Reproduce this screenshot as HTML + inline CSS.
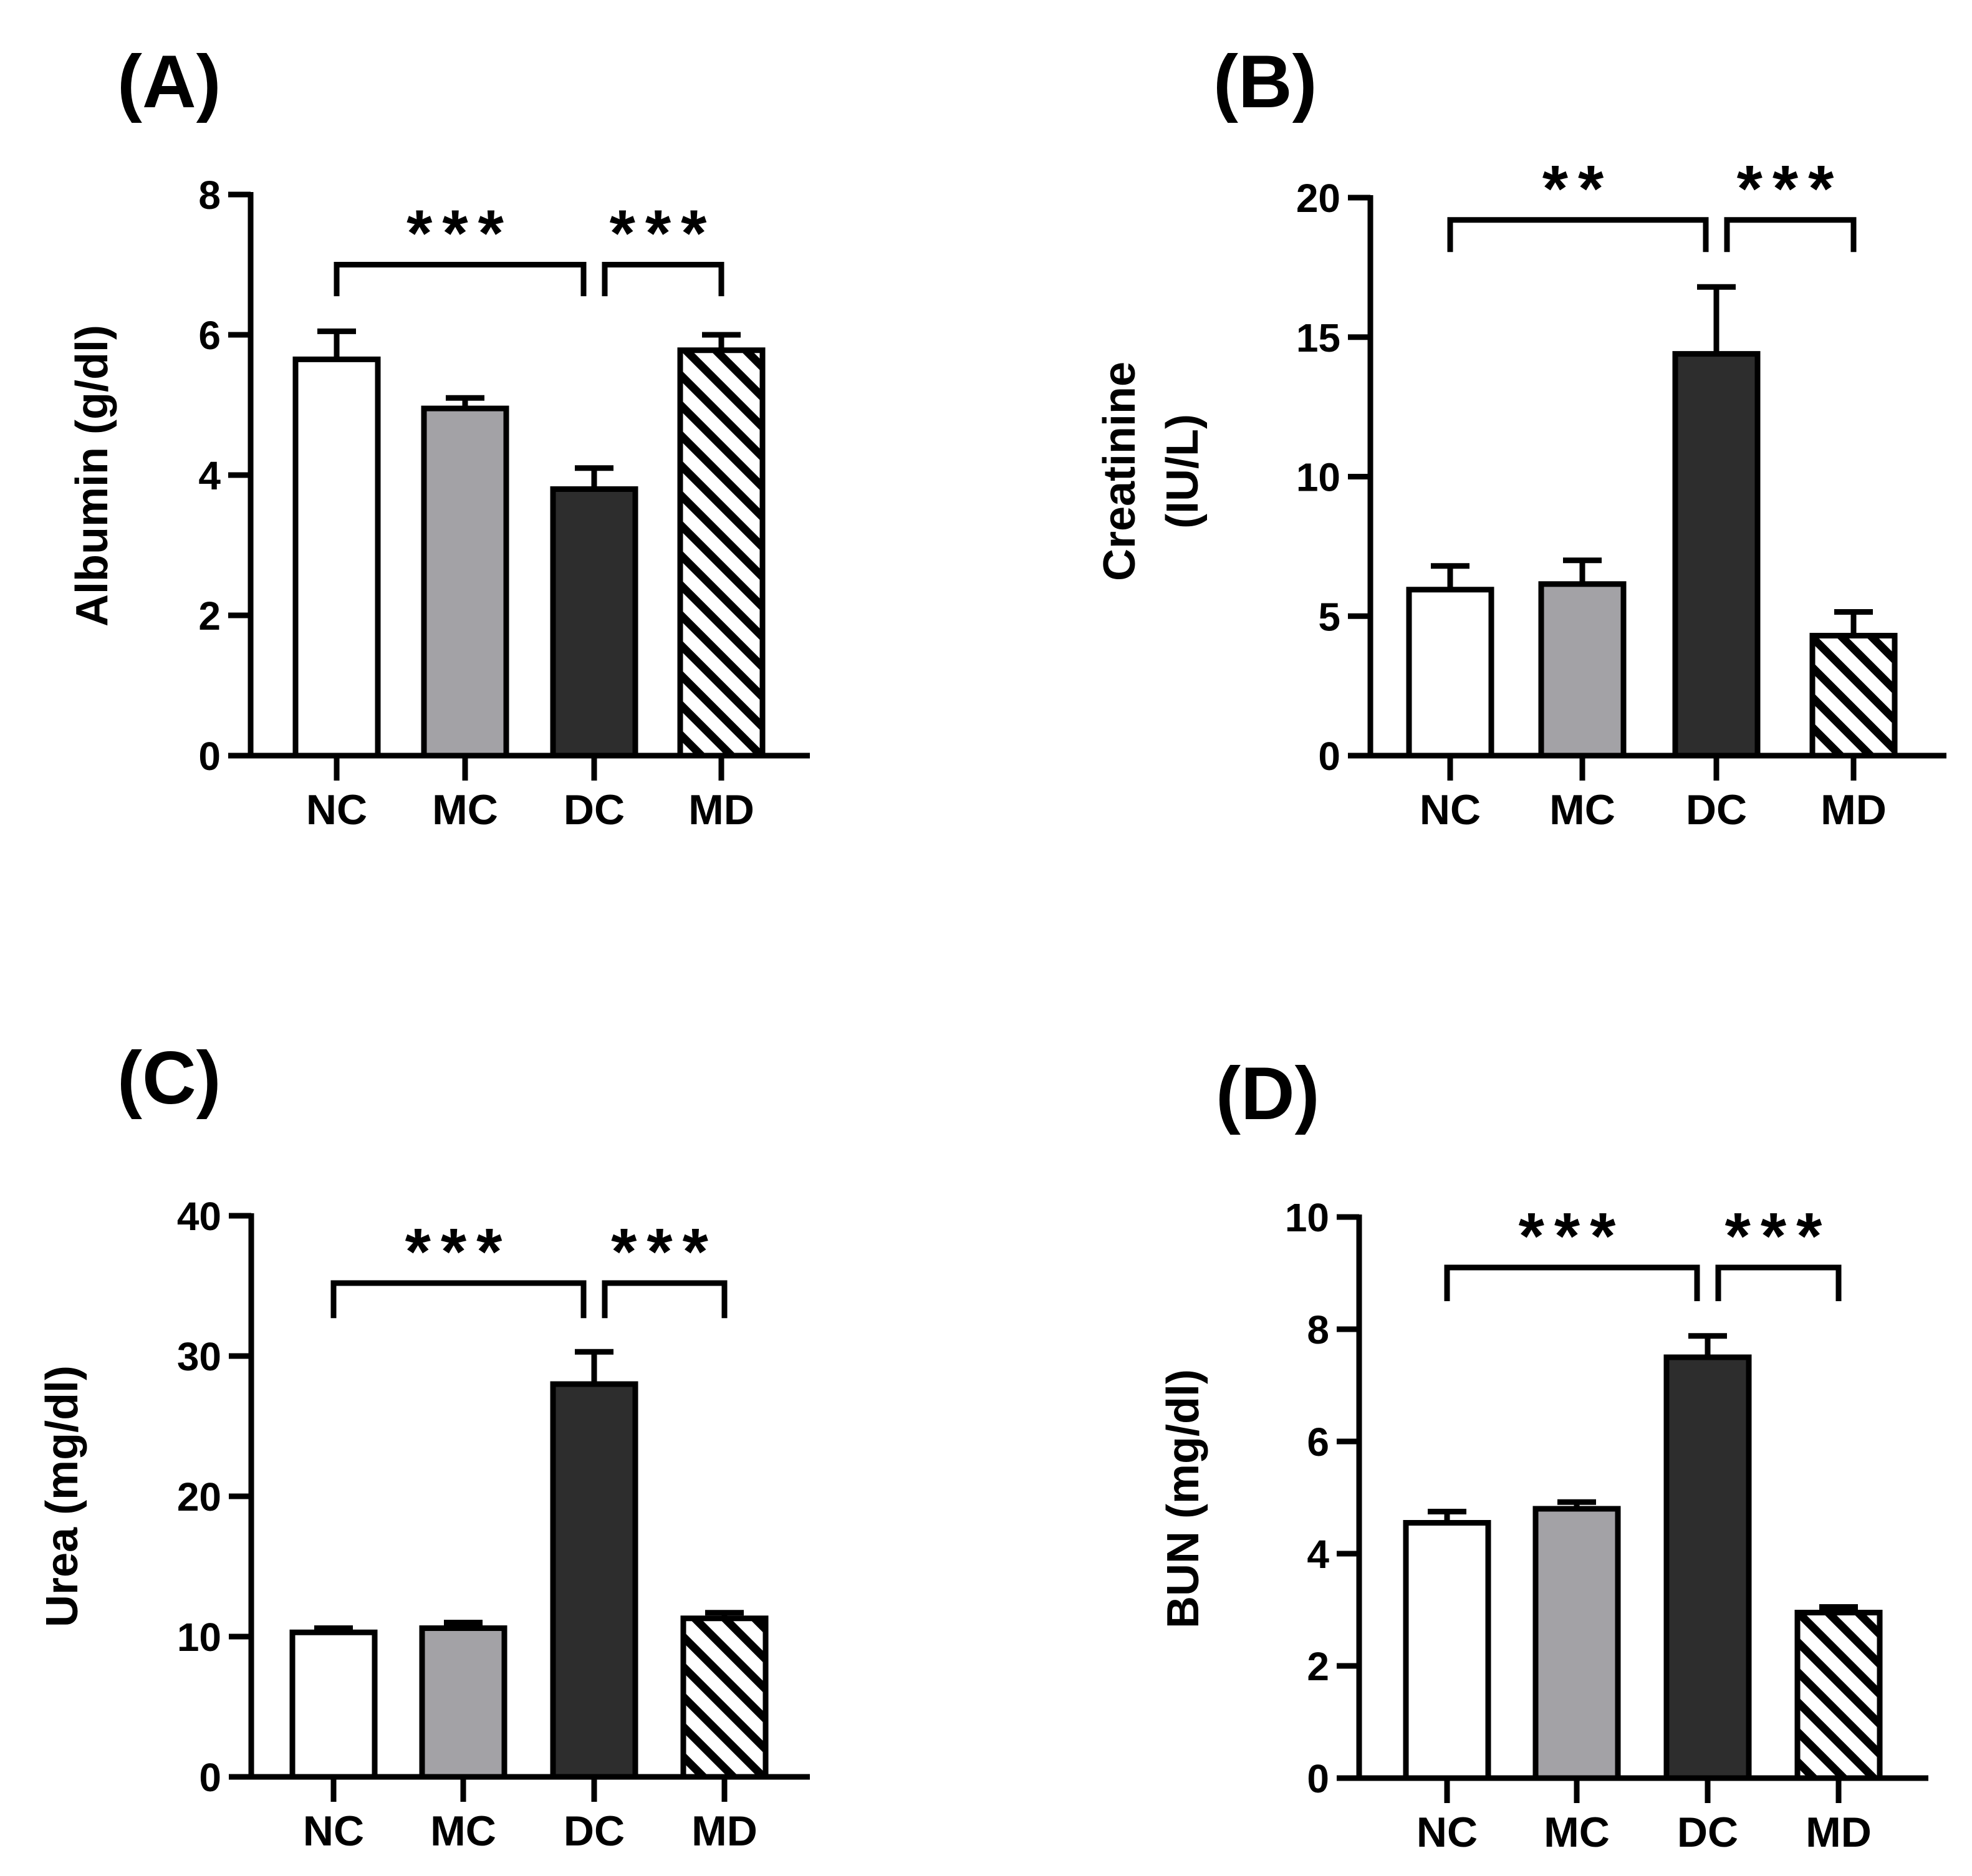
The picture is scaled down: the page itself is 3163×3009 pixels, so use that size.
<!DOCTYPE html>
<html><head><meta charset="utf-8"><style>
html,body{margin:0;padding:0;background:#fff}
svg{display:block}
text{font-family:"Liberation Sans",Arial,sans-serif;font-weight:bold;fill:#000}
</style></head><body>
<svg id="fig" width="3163" height="3009" viewBox="0 0 3163 3009" xmlns="http://www.w3.org/2000/svg">
<defs>
<pattern id="hatch" patternUnits="userSpaceOnUse" width="34" height="34" patternTransform="rotate(-45)">
<rect width="34" height="34" fill="#fff"/>
<rect x="0" y="0" width="13" height="34" fill="#000"/>
</pattern>
</defs>
</svg>
<script>
const categories = ["NC","MC","DC","MD"];
const albuminValues = [5.65, 4.95, 3.8, 5.78];
const albuminErrors = [0.4, 0.15, 0.3, 0.22];
const creatinineValues = [5.95, 6.15, 14.4, 4.3];
const creatinineErrors = [0.85, 0.85, 2.4, 0.85];
const ureaValues = [10.3, 10.6, 28.0, 11.3];
const ureaErrors = [0.3, 0.4, 2.3, 0.4];
const bunValues = [4.55, 4.8, 7.5, 2.95];
const bunErrors = [0.2, 0.12, 0.38, 0.1];
const albuminTicks = [0,2,4,6,8];
const creatinineTicks = [0,5,10,15,20];
const ureaTicks = [0,10,20,30,40];
const bunTicks = [0,2,4,6,8,10];
const albuminBrackets = [[7.0,6.55,"***"]];
const creatinineBrackets = [[19.2,18.05,"**"]];
const ureaBrackets = [[35.2,32.7,"***"]];
const bunBrackets = [[9.1,8.5,"***"]];

const NS="http://www.w3.org/2000/svg";
const svg=document.getElementById('fig');
function mk(tag,attrs,parent){const e=document.createElementNS(NS,tag);for(const k in attrs)e.setAttribute(k,attrs[k]);(parent||svg).appendChild(e);return e;}
const fills=["#ffffff","#a3a2a6","#2d2d2d","url(#hatch)"];

function panel(p){
  const g=mk('g',{});
  
  
  const ymax=p.ticks[p.ticks.length-1];
  const Y=v=>p.y0-(v/ymax)*(p.y0-p.yTop);
  const X=i=>p.cx[i];
  const lw=9;
  const lab=mk('text',{x:p.labX,y:p.labY,'font-size':120},g);lab.textContent=p.label;
  
  
  categories.forEach((c,i)=>{
    const v=p.values[i],e=p.errors[i],w=132;
    const ln=mk('line',{x1:X(i),x2:X(i),y1:Y(v),y2:Y(v+e),stroke:'#000','stroke-width':lw},g);
    
    
    const cap=mk('line',{x1:X(i)-31,x2:X(i)+31,y1:Y(v+e),y2:Y(v+e),stroke:'#000','stroke-width':lw},g);
    
    
    const r=mk('rect',{x:X(i)-w/2,y:Y(v),width:w,height:Y(0)-Y(v),fill:fills[i],stroke:'#000','stroke-width':lw},g);
    
    
    const t=mk('line',{x1:X(i),x2:X(i),y1:p.y0,y2:p.y0+40,stroke:'#000','stroke-width':lw},g);
    
    
    const tl=mk('text',{x:X(i),y:p.y0+110,'font-size':68,'text-anchor':'middle'},g);tl.textContent=c;
    
    
  });
  const ya=mk('line',{x1:p.ax,x2:p.ax,y1:p.yTop-4,y2:p.y0+4,stroke:'#000','stroke-width':lw},g);
  
  
  const xa=mk('line',{x1:p.ax-36,x2:p.axEnd,y1:p.y0,y2:p.y0,stroke:'#000','stroke-width':lw},g);
  
  
  p.ticks.forEach(v=>{
    const t=mk('line',{x1:p.ax-36,x2:p.ax,y1:Y(v),y2:Y(v),stroke:'#000','stroke-width':lw},g);
    
    
    const tl=mk('text',{x:p.ax-48,y:Y(v)+23,'font-size':64,'text-anchor':'end'},g);tl.textContent=v;
    
    
  });
  p.title.forEach((s,k)=>{
    const tx=p.titleX[k];
    const tt=mk('text',{x:tx,y:p.titleY,'font-size':72,'text-anchor':'middle',transform:`rotate(-90 ${tx} ${p.titleY})`},g);tt.textContent=s;
    
    
  });
  const b=p.brackets[0];
  const segs=[[X(0),X(2)-17],[X(2)+17,X(3)]];
  segs.forEach((sg,k)=>{
    const pl=mk('polyline',{points:`${sg[0]},${Y(b[1])} ${sg[0]},${Y(b[0])} ${sg[1]},${Y(b[0])} ${sg[1]},${Y(b[1])}`,fill:'none',stroke:'#000','stroke-width':lw},g);
    
    
    const st=mk('text',{x:(sg[0]+sg[1])/2,y:Y(b[0])-14,'font-size':106,'text-anchor':'middle','letter-spacing':'16'},g);
    st.textContent=k===0?b[2]:"***";
    
    
  });
}
panel({name:'panel-a-albumin',label:'(A)',labX:188,labY:172,values:albuminValues,errors:albuminErrors,ticks:albuminTicks,brackets:albuminBrackets,ax:402,axEnd:1299,y0:1212,yTop:312,cx:[540,746,953,1157],title:['Albumin (g/dl)'],titleX:[172],titleY:763});
panel({name:'panel-b-creatinine',label:'(B)',labX:1946,labY:172,values:creatinineValues,errors:creatinineErrors,ticks:creatinineTicks,brackets:creatinineBrackets,ax:2198,axEnd:3122,y0:1212,yTop:317,cx:[2326,2538,2753,2973],title:['Creatinine','(IU/L)'],titleX:[1820,1921],titleY:756});
panel({name:'panel-c-urea',label:'(C)',labX:188,labY:1770,values:ureaValues,errors:ureaErrors,ticks:ureaTicks,brackets:ureaBrackets,ax:403,axEnd:1299,y0:2850,yTop:1950,cx:[535,743,953,1162],title:['Urea (mg/dl)'],titleX:[124],titleY:2400});
panel({name:'panel-d-bun',label:'(D)',labX:1950,labY:1795,values:bunValues,errors:bunErrors,ticks:bunTicks,brackets:bunBrackets,ax:2180,axEnd:3093,y0:2852,yTop:1952,cx:[2321,2529,2739,2949],title:['BUN (mg/dl)'],titleX:[1922],titleY:2404});
</script>
</body></html>
